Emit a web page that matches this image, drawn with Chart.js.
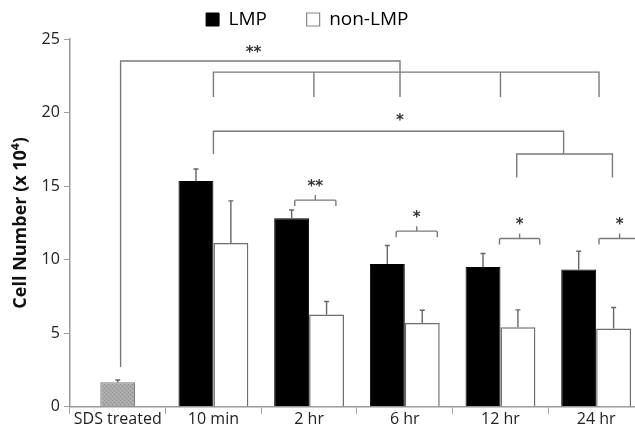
<!DOCTYPE html>
<html>
<head>
<meta charset="utf-8">
<script src="https://cdn.jsdelivr.net/npm/chart.js@4.4.1/dist/chart.umd.min.js"></script>
<style>
html,body{margin:0;padding:0;background:#fff;overflow:hidden}
#wrap{width:644px;height:436px;position:relative}
</style>
</head>
<body>
<div id="wrap"><canvas id="chart"></canvas></div>
<script>
// data
const categories = ["SDS treated","10 min","2 hr","6 hr","12 hr","24 hr"]
const sdsValues = [1.67,null,null,null,null,null]
const sdsErr = [0.15,0,0,0,0,0]
const lmpValues = [null,15.34,12.81,9.71,9.50,9.34]
const lmpErr = [0,0.82,0.57,1.25,0.92,1.23]
const nonLmpValues = [null,11.14,6.27,5.70,5.40,5.33]
const nonLmpErr = [0,2.86,0.89,0.86,1.19,1.42]
const yTicks = [0,5,10,15,20,25]

// significance brackets, in category index / y units
const bigPaths = [
  [[0.03,2.7],[0.03,23.5],[2.95,23.5],[2.95,21.05]],
  [[1,21.05],[1,22.75],[5.03,22.75],[5.03,21.05]],
  [[2.05,22.75],[2.05,21.05]],
  [[4,22.75],[4,21.05]],
  [[1,17.18],[1,18.73],[4.66,18.73],[4.66,17.18]],
  [[4.17,15.58],[4.17,17.18],[5.17,17.18],[5.17,15.58]]
]
const bigStars = [["**",1.42,24.25],["*",2.95,19.6]]
const pairLeft = [1.85,2.91,3.99,5.03]
const pairRight = [2.28,3.34,4.41,5.46]
const pairY = [14.05,11.94,11.44,11.44]
const pairStars = ["**","*","*","*"]

function hatch(){
const c = document.createElement("canvas")
c.width = 4; c.height = 4
const g = c.getContext("2d")
g.fillStyle = "#a9a9a9"
g.fillRect(0,0,4,4)
g.fillStyle = "#8f8f8f"
g.fillRect(0,0,1,1); g.fillRect(2,2,1,1)
g.fillStyle = "#bdbdbd"
g.fillRect(2,0,1,1); g.fillRect(0,2,1,1)
return g.createPattern(c,"repeat")
}

const errorBars = {
id:"errorBars",
afterDatasetsDraw(chart){
const ctx = chart.ctx
const y = chart.scales.y
chart.data.datasets.forEach((ds,i)=>{
const meta = chart.getDatasetMeta(i)
meta.data.forEach((el,j)=>{
const v = ds.data[j]
if(v==null || !ds.err[j]) return
const top = y.getPixelForValue(v + ds.err[j])
ctx.save()
ctx.strokeStyle = "#666"
ctx.lineWidth = 1.4
ctx.beginPath()
ctx.moveTo(el.x, el.y)
ctx.lineTo(el.x, top)
ctx.moveTo(el.x-2.5, top)
ctx.lineTo(el.x+2.5, top)
ctx.stroke()
ctx.restore()
})
})
}
}

const brackets = {
id:"brackets",
afterDatasetsDraw(chart){
const ctx = chart.ctx
const xs = chart.scales.x, ys = chart.scales.y
const px = v=>xs.getPixelForValue(v)
const py = v=>ys.getPixelForValue(v)
ctx.save()
ctx.strokeStyle = "#7a7a7a"
ctx.lineWidth = 1.4
bigPaths.forEach(p=>{
ctx.beginPath()
p.forEach((pt,k)=>{
if(k===0) ctx.moveTo(px(pt[0]),py(pt[1]))
else ctx.lineTo(px(pt[0]),py(pt[1]))
})
ctx.stroke()
})
pairLeft.forEach((l,k)=>{
const x1 = px(l), x2 = px(pairRight[k]), yy = py(pairY[k])
const xm = (x1+x2)/2
ctx.beginPath()
ctx.moveTo(x1, yy+6)
ctx.lineTo(x1, yy+1)
ctx.quadraticCurveTo(x1, yy, x1+1, yy)
ctx.lineTo(x2-1, yy)
ctx.quadraticCurveTo(x2, yy, x2, yy+1)
ctx.lineTo(x2, yy+6)
ctx.moveTo(xm, yy)
ctx.lineTo(xm, yy-5)
ctx.stroke()
})
ctx.fillStyle = "#333"
ctx.font = "bold 15px 'DejaVu Sans'"
ctx.textAlign = "center"
ctx.textBaseline = "middle"
bigStars.forEach(s=>{
ctx.fillText(s[0], px(s[1]), py(s[2])+3)
})
pairLeft.forEach((l,k)=>{
const xm = (px(l)+px(pairRight[k]))/2
ctx.fillText(pairStars[k], xm, py(pairY[k])-13)
})
ctx.restore()
}
}

const ctx = document.getElementById("chart").getContext("2d")

new Chart(ctx,{
type:"bar",
data:{
labels:categories,
datasets:[
{
label:"SDS",
data:sdsValues,
err:sdsErr,
backgroundColor:hatch(),
borderColor:"#808080",
borderWidth:1.2,
barPercentage:0.5
},
{
label:"LMP",
data:lmpValues,
err:lmpErr,
backgroundColor:"#000",
borderColor:"#000",
borderWidth:1
},
{
label:"non-LMP",
data:nonLmpValues,
err:nonLmpErr,
backgroundColor:"#fff",
borderColor:"#6e6e6e",
borderWidth:1.5
}
]
},
options:{
responsive:true,
maintainAspectRatio:false,
animation:false,
skipNull:true,
datasets:{bar:{categoryPercentage:0.73,barPercentage:1,borderSkipped:"bottom"}},
layout:{padding:{left:10,right:0,top:0,bottom:11}},
plugins:{
tooltip:{enabled:false},
legend:{
position:"top",
labels:{
color:"#111",
font:{family:"'Open Sans'",size:19},
boxWidth:13,
boxHeight:13,
padding:10,
generateLabels(chart){
// trailing spaces widen the gap between the two items
return [
{text:"LMP      ",fillStyle:"#000",strokeStyle:"#000",lineWidth:1,datasetIndex:1},
{text:"non-LMP        ",fillStyle:"#fff",strokeStyle:"#888",lineWidth:1.2,datasetIndex:2}
]
}
}
}
},
scales:{
x:{
grid:{display:true,drawOnChartArea:false,offset:true,color:"#a0a0a0",tickLength:7},
border:{color:"#999",width:1.5},
ticks:{color:"#222",font:{family:"'Open Sans'",size:16},padding:-4}
},
y:{
min:0,
max:25,
afterBuildTicks(scale){scale.ticks = yTicks.map(v=>({value:v}))},
grid:{display:true,drawOnChartArea:false,color:"#a0a0a0",tickLength:6},
border:{color:"#999",width:1.5},
ticks:{color:"#222",font:{family:"'Open Sans'",size:16},padding:4},
title:{
display:true,
text:"Cell Number (x 10⁴)",
color:"#111",
font:{family:"'Open Sans'",size:18,weight:"bold"},
padding:{top:0,bottom:6}
}
}
}
},
plugins:[errorBars,brackets]
})
</script>
</body>
</html>
